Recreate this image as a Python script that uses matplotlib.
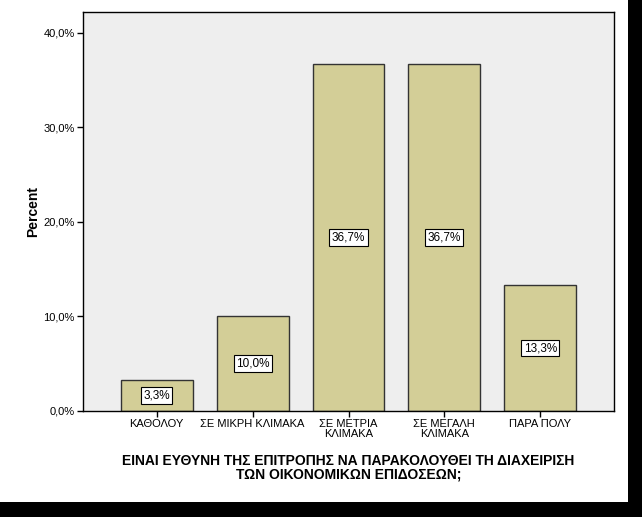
import matplotlib
matplotlib.use("Agg")
import matplotlib.pyplot as plt
from matplotlib.patches import Rectangle

categories = ["ΚΑΘΟΛΟΥ", "ΣΕ ΜΙΚΡΗ ΚΛΙΜΑΚΑ", "ΣΕ ΜΕΤΡΙΑ\nΚΛΙΜΑΚΑ", "ΣΕ ΜΕΓΑΛΗ\nΚΛΙΜΑΚΑ", "ΠΑΡΑ ΠΟΛΥ"]
percents = [3.3, 10.0, 36.7, 36.7, 13.3]
yticks = [0, 10, 20, 30, 40]
xlabel = "ΕΙΝΑΙ ΕΥΘΥΝΗ ΤΗΣ ΕΠΙΤΡΟΠΗΣ ΝΑ ΠΑΡΑΚΟΛΟΥΘΕΙ ΤΗ ΔΙΑΧΕΙΡΙΣΗ\nΤΩΝ ΟΙΚΟΝΟΜΙΚΩΝ ΕΠΙΔΟΣΕΩΝ;"

plt.rcParams['font.family'] = ['Liberation Sans', 'DejaVu Sans']

W, H = 642, 517
fig = plt.figure(figsize=(W / 100, H / 100), dpi=100, facecolor="white")
# black shadow strips on right and bottom
fig.patches.append(Rectangle((628 / W, 0), 14 / W, 1, transform=fig.transFigure,
                             facecolor="black", edgecolor="none", zorder=-10))
fig.patches.append(Rectangle((0, 0), 1, 15 / H, transform=fig.transFigure,
                             facecolor="black", edgecolor="none", zorder=-10))

left, right, top, bottom = 83, 614, 12, 411
ax = fig.add_axes([left / W, 1 - bottom / H, (right - left) / W, (bottom - top) / H])
ax.set_facecolor("#EEEEEE")

x = list(range(len(categories)))
ax.bar(x, percents, width=0.75, color="#D3CE97", edgecolor="#333333", linewidth=1.0, zorder=2)
for xi, v in zip(x, percents):
    ax.text(xi, v / 2, f"{v:.1f}%".replace(".", ","), ha="center", va="center", fontsize=8.5,
            bbox=dict(boxstyle="square,pad=0.2", facecolor="white", edgecolor="black", linewidth=0.8),
            zorder=3)

ax.set_xlim(-0.77, 4.77)
ax.set_ylim(0, 42.2)
ax.set_yticks(yticks)
ax.set_yticklabels([f"{t:.1f}%".replace(".", ",") for t in yticks], fontsize=8)
ax.set_xticks(x)
ax.set_xticklabels(categories, fontsize=8, linespacing=0.9)
ax.tick_params(axis="both", direction="out", length=4, width=1, color="black", pad=2)
for s in ax.spines.values():
    s.set_linewidth(1)
    s.set_color("black")

ax.set_ylabel("Percent", fontsize=10, fontweight="bold", labelpad=2)
ax.set_xlabel(xlabel, fontsize=10, fontweight="bold", labelpad=11, linespacing=1.0)

fig.savefig("out.png", dpi=100)
